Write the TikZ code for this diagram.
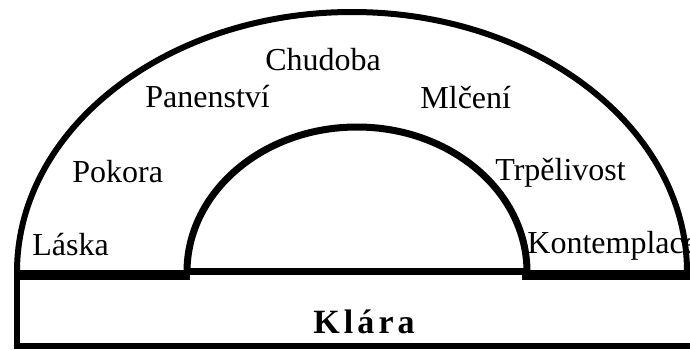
\documentclass[tikz,border=0pt]{standalone}
\usepackage{fontspec}
\setmainfont{Liberation Serif}
\newfontfamily\ctnostfont{Liberation Serif}
\newfontfamily\spacedfont[LetterSpace=12]{Liberation Serif}
\usetikzlibrary{positioning}

\tikzset{
  ctnost/.style={anchor=base west, inner sep=0pt, font=\ctnostfont\fontsize{16}{19}\selectfont},
  jmeno/.style={anchor=base west, inner sep=0pt, font=\spacedfont\bfseries\fontsize{17}{20}\selectfont},
}

\begin{document}
\begin{tikzpicture}[x=0.5pt, y=-0.5pt]
\useasboundingbox (0,0) rectangle (690,349);
\clip (0,0) rectangle (690,349);

% vnejsi oblouk
\draw[line width=3pt] (17,272) arc[start angle=180, end angle=360, x radius=335, y radius=260];
% vnitrni oblouk
\draw[line width=3.5pt] (187,272) arc[start angle=180, end angle=360, x radius=170, y radius=145];

% zaklad
\draw[line width=5pt] (14,275) -- (190,275);
\draw[line width=5pt] (522,275) -- (700,275);
\draw[line width=3.5pt] (187,271.5) -- (527,271.5);

% obdelnik dole
\draw[line width=3pt] (17,275) -- (17,346) -- (700,346);

% ctnosti
\node[ctnost] (chudoba) at (265,70) {Chudoba};
\node[ctnost] (panenstvi) at (145,107) {Panenství};
\node[ctnost] (mlceni) at (420,108) {Mlčení};
\node[ctnost] (pokora) at (72,182) {Pokora};
\node[ctnost] (trpelivost) at (495,180) {Trpělivost};
\node[ctnost] (laska) at (32,255) {Láska};
\node[ctnost] (kontemplace) at (527,253) {Kontemplace};

\node[jmeno] (klara) at (313,333) {Klára};

\end{tikzpicture}
\end{document}
